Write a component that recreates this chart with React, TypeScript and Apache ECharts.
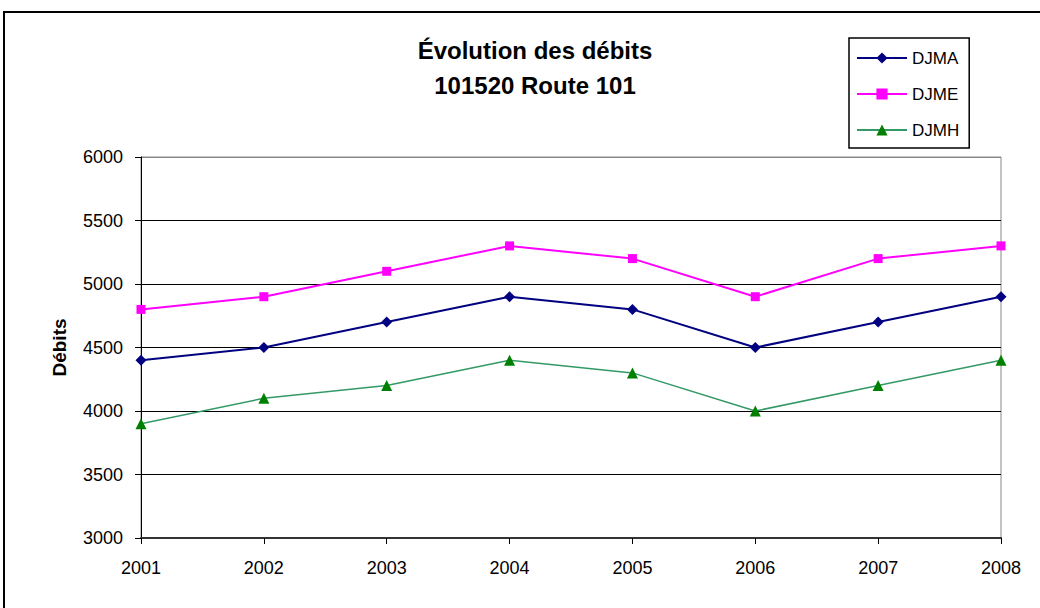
import React, { useEffect, useRef } from "react";
import * as echarts from "echarts";

const years = ["2001", "2002", "2003", "2004", "2005", "2006", "2007", "2008"];
const djma = [4400, 4500, 4700, 4900, 4800, 4500, 4700, 4900];
const djme = [4800, 4900, 5100, 5300, 5200, 4900, 5200, 5300];
const djmh = [3900, 4100, 4200, 4400, 4300, 4000, 4200, 4400];

const FONT = "'Liberation Sans', Arial, sans-serif";

export default function App() {
  const ref = useRef<HTMLDivElement>(null);
  useEffect(() => {
    if (!ref.current) return;
    const chart = echarts.init(ref.current, undefined, { renderer: "svg" });
    chart.setOption({
      animation: false,
      backgroundColor: "#fff",
      textStyle: { fontFamily: FONT },
      title: {
        text: "Évolution des débits\n101520 Route 101",
        left: 530,
        textAlign: "center",
        top: 28,
        textStyle: { fontFamily: FONT, fontSize: 24, fontWeight: "bold", color: "#000", lineHeight: 35 },
      },
      legend: {
        orient: "vertical",
        left: 849,
        top: 38,
        borderColor: "#000",
        borderWidth: 1.5,
        padding: [11, 10, 9, 7],
        itemWidth: 50,
        itemHeight: 14,
        itemGap: 18,
        textStyle: { fontFamily: FONT, fontSize: 17, color: "#000", lineHeight: 18 },
        data: ["DJMA", "DJME", "DJMH"],
      },
      grid: {
        left: 141,
        right: 39,
        top: 157,
        bottom: 70,
        show: true,
        borderColor: "#888",
        borderWidth: 1,
      },
      xAxis: {
        type: "category",
        data: years,
        boundaryGap: false,
        axisLine: { lineStyle: { color: "#333", width: 2 } },
        axisTick: { show: true, length: 6, lineStyle: { color: "#000" } },
        axisLabel: { fontFamily: FONT, fontSize: 18, color: "#000", margin: 21 },
        splitLine: { show: false },
      },
      yAxis: {
        type: "value",
        min: 3000,
        max: 6000,
        interval: 500,
        name: "Débits",
        nameLocation: "middle",
        nameGap: 72,
        nameTextStyle: { fontFamily: FONT, fontSize: 19, fontWeight: "bold", color: "#000" },
        axisLine: { show: true, lineStyle: { color: "#000", width: 1 } },
        axisTick: { show: true, length: 6, lineStyle: { color: "#000" } },
        axisLabel: {
          fontFamily: FONT,
          fontSize: 18,
          color: "#000",
          margin: 18,
          formatter: (v: number) => String(v),
        },
        splitLine: {
          show: true,
          lineStyle: { color: ["#000", "#000", "#000", "#000", "#000", "#000", "#888"], width: 1 },
        },
      },
      graphic: [
        {
          type: "rect",
          shape: { x: 4, y: 12, width: 1060, height: 640 },
          style: { fill: "none", stroke: "#000", lineWidth: 2 },
          silent: true,
        },
      ],
      series: [
        {
          name: "DJMA",
          type: "line",
          data: djma,
          symbol: "diamond",
          symbolSize: 11,
          lineStyle: { color: "#000080", width: 2 },
          itemStyle: { color: "#000080" },
        },
        {
          name: "DJME",
          type: "line",
          data: djme,
          symbol: "rect",
          symbolSize: 9,
          lineStyle: { color: "#FF00FF", width: 2 },
          itemStyle: { color: "#FF00FF" },
        },
        {
          name: "DJMH",
          type: "line",
          data: djmh,
          symbol: "triangle",
          symbolSize: 11,
          lineStyle: { color: "#339966", width: 1.5 },
          itemStyle: { color: "#008000" },
        },
      ],
    });
    return () => chart.dispose();
  }, []);
  return (
    <div
      ref={ref}
      style={{ position: "fixed", left: 0, top: 0, width: 1040, height: 608 }}
    />
  );
}
